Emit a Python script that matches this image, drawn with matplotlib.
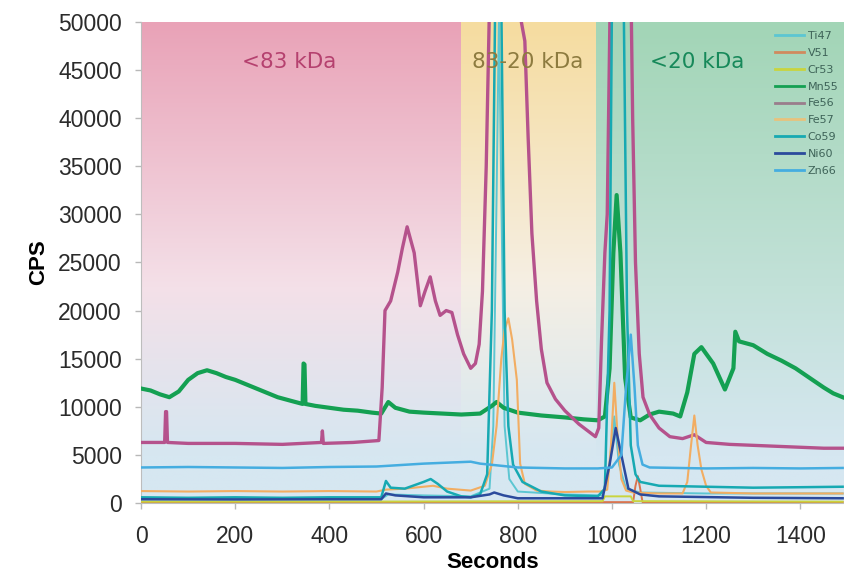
import numpy as np
import matplotlib
matplotlib.use('Agg')
import matplotlib.pyplot as plt
from matplotlib.colors import to_rgb

# Size-fraction windows (seconds) and labels
regions = [(0, 680), (680, 966), (966, 1495)]
region_labels = ['<83 kDa', '83-20 kDa', '<20 kDa']
region_label_x = [314, 820, 1181]

# Series: (seconds, CPS)
mn55_t = [0, 20, 40, 60, 80, 100, 120, 140, 160, 180, 200, 230, 260, 290, 320, 343, 345, 347, 349,
          370, 400, 430, 460, 490, 510, 525, 540, 570, 600, 640, 680, 720, 745, 755, 770, 800, 850,
          900, 940, 970, 985, 995, 1003, 1010, 1018, 1028, 1040, 1060, 1080, 1100, 1130, 1145, 1160,
          1175, 1190, 1215, 1240, 1258, 1262, 1270, 1300, 1330, 1360, 1390, 1420, 1450, 1470, 1490]
mn55_v = [11900, 11700, 11300, 11000, 11600, 12800, 13500, 13800, 13500, 13100, 12800, 12200, 11600,
          11000, 10600, 10300, 14500, 14400, 10300, 10100, 9900, 9700, 9600, 9400, 9300, 10500, 9900,
          9500, 9400, 9300, 9200, 9300, 10100, 10500, 9900, 9400, 9100, 8900, 8700, 8600, 9000, 14000,
          26000, 32000, 26000, 13000, 8900, 8600, 9200, 9500, 9300, 9000, 11500, 15500, 16200, 14500,
          11800, 14000, 17800, 16800, 16400, 15500, 14800, 14000, 13000, 12000, 11400, 11000]

fe56_t = [0, 50, 52, 54, 56, 100, 200, 300, 383, 385, 387, 450, 505, 512, 518, 530, 545, 555, 565,
          580, 593, 603, 614, 625, 635, 648, 660, 672, 685, 700, 710, 718, 725, 733, 740, 800, 815,
          822, 830, 840, 850, 862, 880, 900, 930, 965, 972, 978, 985, 990, 997, 1040, 1044, 1050,
          1058, 1066, 1080, 1100, 1123, 1150, 1175, 1200, 1250, 1300, 1350, 1400, 1450, 1490]
fe56_v = [6300, 6300, 9500, 9500, 6300, 6200, 6200, 6100, 6300, 7500, 6200, 6300, 6500, 12000, 20000,
          21000, 24000, 26500, 28700, 26000, 20500, 22000, 23500, 21000, 19500, 20000, 19800, 17500,
          15500, 14000, 14500, 16500, 22000, 35000, 52000, 52000, 48000, 38000, 28000, 21000, 16000,
          12500, 10800, 9600, 8200, 6900, 7800, 17000, 26000, 30000, 55000, 55000, 40000, 25000, 15500,
          11000, 9200, 7800, 6900, 6700, 7100, 6300, 6100, 6000, 5900, 5800, 5700, 5700]

fe57_t = [0, 100, 200, 300, 400, 500, 520, 560, 600, 620, 650, 700, 730, 745, 755, 765, 772, 780,
          788, 798, 805, 815, 840, 870, 900, 950, 975, 990, 998, 1005, 1012, 1020, 1030, 1045, 1100,
          1150, 1160, 1168, 1175, 1182, 1190, 1200, 1210, 1300, 1400, 1490]
fe57_v = [1250, 1200, 1250, 1200, 1250, 1200, 1400, 1500, 1700, 1800, 1500, 1300, 1800, 4000, 8000,
          15000, 18000, 19200, 17000, 12800, 4100, 2000, 1300, 1200, 1150, 1200, 1200, 1400, 6000,
          12500, 7000, 2500, 1300, 1100, 1000, 1000, 2200, 6000, 9100, 6000, 3500, 1800, 1100, 1000,
          1000, 1000]

zn66_t = [0, 100, 200, 300, 400, 500, 600, 650, 700, 720, 760, 800, 900, 970, 1000, 1020, 1030, 1040,
          1048, 1055, 1065, 1080, 1200, 1300, 1400, 1490]
zn66_v = [3700, 3750, 3700, 3650, 3750, 3800, 4100, 4200, 4300, 4100, 3900, 3700, 3600, 3600, 3700,
          5000, 12000, 17500, 12000, 6000, 4000, 3700, 3600, 3650, 3600, 3650]

co59_t = [0, 100, 200, 300, 400, 510, 520, 530, 560, 600, 615, 630, 650, 680, 700, 720, 735, 745,
          752, 765, 772, 780, 790, 810, 850, 900, 970, 985, 995, 1000, 1025, 1032, 1040, 1050, 1060,
          1100, 1200, 1300, 1400, 1490]
co59_v = [600, 550, 600, 550, 600, 600, 2300, 1600, 1500, 2200, 2500, 2000, 1200, 700, 600, 900,
          3000, 20000, 52000, 52000, 20000, 8000, 4000, 2200, 1200, 800, 700, 1500, 20000, 52000,
          52000, 20000, 6000, 3000, 2200, 1800, 1700, 1600, 1650, 1700]

ti47_t = [0, 200, 400, 510, 525, 600, 700, 740, 748, 755, 760, 765, 772, 782, 800, 900, 980, 995,
          1005, 1015, 1030, 1060, 1200, 1490]
ti47_v = [400, 420, 400, 420, 900, 800, 700, 1500, 8000, 32000, 50500, 32000, 8000, 2500, 1200, 900,
          800, 4000, 9000, 4000, 1500, 1100, 1000, 1000]

ni60_t = [0, 200, 400, 510, 520, 540, 600, 700, 740, 750, 770, 800, 980, 995, 1008, 1020, 1035, 1060,
          1100, 1300, 1490]
ni60_v = [400, 380, 400, 400, 1000, 800, 600, 600, 900, 1100, 800, 500, 500, 4000, 7800, 5000, 1500,
          900, 700, 550, 500]

cr53_t = [0, 500, 980, 985, 1040, 1045, 1490]
cr53_v = [150, 160, 200, 700, 700, 200, 150]

v51_t = [0, 500, 1000, 1045, 1050, 1055, 1060, 1065, 1490]
v51_v = [100, 100, 100, 100, 1800, 2800, 1500, 100, 100]

series = [
    ('Ti47', ti47_t, ti47_v, '#5cc6d2', 1.4),
    ('V51', v51_t, v51_v, '#d9744f', 1.4),
    ('Cr53', cr53_t, cr53_v, '#c9d43e', 1.4),
    ('Mn55', mn55_t, mn55_v, '#14a052', 3.0),
    ('Fe56', fe56_t, fe56_v, '#b5528c', 2.4),
    ('Fe57', fe57_t, fe57_v, '#f2ad62', 1.5),
    ('Co59', co59_t, co59_v, '#17a9b2', 1.8),
    ('Ni60', ni60_t, ni60_v, '#2b4a9c', 1.8),
    ('Zn66', zn66_t, zn66_v, '#45ade0', 1.8),
]
legend_colors = ['#5cc6d2', '#d08a5e', '#c9d43e', '#14a052', '#9a7d8c', '#e8c27c', '#17a9b2',
                 '#2b4a9c', '#45ade0']

# background gradient stops: top, middle, bottom
grad_top = ['#e9a2b7', '#f6dc9f', '#a2d5b6']
grad_mid = ['#f4e0e8', '#f5efe4', '#c2e1d8']
grad_bot = '#d6e7f1'
region_text_colors = ['#b5416f', '#8d7b3f', '#17895a']

fig = plt.figure(figsize=(8.45, 5.73), dpi=100)
ax = fig.add_axes([0.167, 0.122, 0.833, 0.840])

n = 200
f = np.linspace(0, 1, n)[:, None]  # 0 at top, 1 at bottom
for (x0, x1), ct, cm in zip(regions, grad_top, grad_mid):
    top = np.array(to_rgb(ct))
    mid = np.array(to_rgb(cm))
    bot = np.array(to_rgb(grad_bot))
    a = np.clip(f / 0.55, 0, 1)
    b = np.clip((f - 0.55) / 0.35, 0, 1)
    col = np.where(f < 0.55, top + (mid - top) * a, mid + (bot - mid) * b)
    img = col[:, None, :]
    ax.imshow(img, extent=[x0, x1, 0, 50000], aspect='auto', zorder=0, interpolation='bilinear')

for (lab, t, v, c, lw) in series:
    ax.plot(t, v, color=c, lw=lw, zorder=3)

for lab, x, c in zip(region_labels, region_label_x, region_text_colors):
    ax.text(x, 45800, lab, color=c, fontsize=15.5, ha='center', va='center',
            family='DejaVu Sans', zorder=4)

handles = [plt.Line2D([], [], color=c, lw=2) for c in legend_colors]
leg = ax.legend(handles, [s[0] for s in series], loc='upper right', bbox_to_anchor=(1.0, 0.995),
                frameon=False, fontsize=8, handlelength=2.6, handletextpad=0.35,
                labelspacing=0.62, borderaxespad=0.2)
for txt in leg.get_texts():
    txt.set_color('#3e6358')

ax.set_xlim(0, 1495)
ax.set_ylim(0, 50000)
ax.set_xticks(range(0, 1401, 200))
ax.set_yticks(range(0, 50001, 5000))

tick_font = 'Liberation Sans'
for lbl in ax.get_xticklabels() + ax.get_yticklabels():
    lbl.set_family(tick_font)
    lbl.set_fontsize(16.5)
    lbl.set_color('#2b2b2b')
ax.tick_params(axis='both', direction='out', length=4, color='#b8b8b8', width=1)
ax.tick_params(axis='y', pad=10)
ax.tick_params(axis='x', pad=12)

for side in ['top', 'right']:
    ax.spines[side].set_visible(False)
for side in ['left', 'bottom']:
    ax.spines[side].set_color('#bdbdbd')

ax.set_ylabel('CPS', family=tick_font, fontsize=16, fontweight='bold', labelpad=6)
ax.set_xlabel('Seconds', family=tick_font, fontsize=16, fontweight='bold', labelpad=3)

fig.savefig('out.png', dpi=100)
